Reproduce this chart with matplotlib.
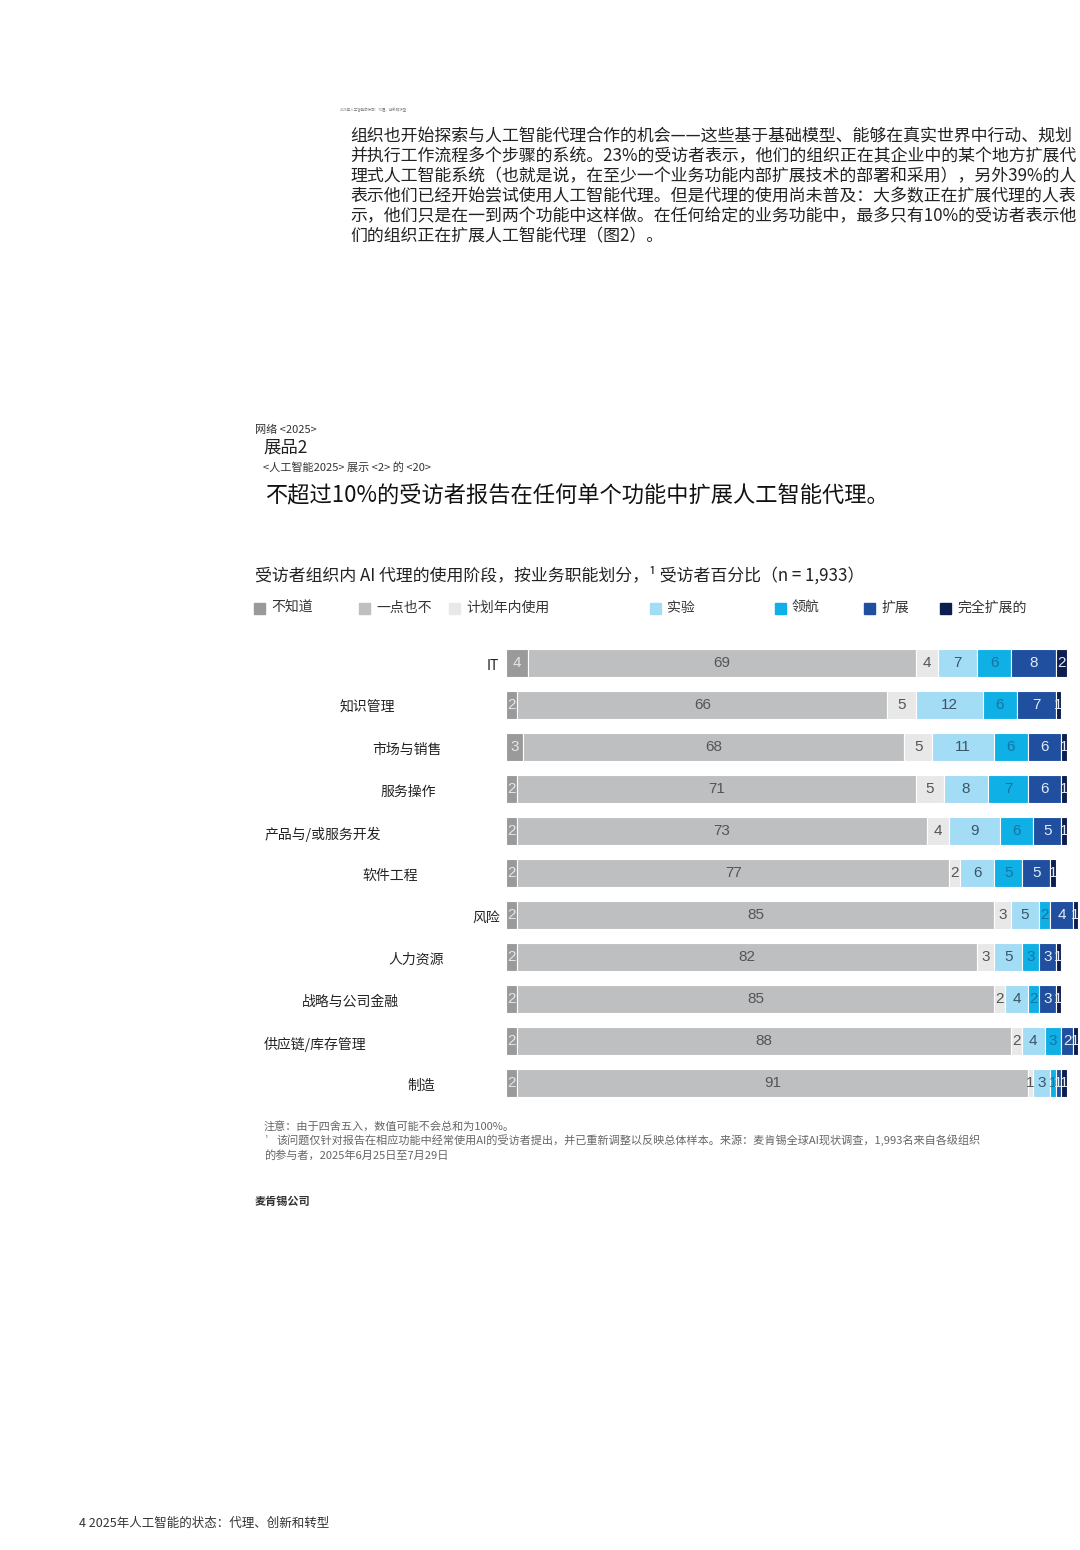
import matplotlib
matplotlib.use("Agg")
import matplotlib.pyplot as plt
from matplotlib.patches import Rectangle
import matplotlib.transforms as mtransforms

plt.rcParams['font.family'] = ['Noto Sans CJK SC', 'DejaVu Sans']

# ---- data ----
functions = ["IT", "知识管理", "市场与销售", "服务操作", "产品与/或服务开发", "软件工程",
             "风险", "人力资源", "战略与公司金融", "供应链/库存管理", "制造"]
stages = ["不知道", "一点也不", "计划年内使用", "实验", "领航", "扩展", "完全扩展的"]
dont_know = [4, 2, 3, 2, 2, 2, 2, 2, 2, 2, 2]
not_at_all = [69, 66, 68, 71, 73, 77, 85, 82, 85, 88, 91]
planning = [4, 5, 5, 5, 4, 2, 3, 3, 2, 2, 1]
experimenting = [7, 12, 11, 8, 9, 6, 5, 5, 4, 4, 3]
piloting = [6, 6, 6, 7, 6, 5, 2, 3, 2, 3, 1]
scaling = [8, 7, 6, 6, 5, 5, 4, 3, 3, 2, 1]
fully_scaled = [2, 1, 1, 1, 1, 1, 1, 1, 1, 1, 1]
series = [dont_know, not_at_all, planning, experimenting, piloting, scaling, fully_scaled]

colors = ["#9a9a9a", "#bdbfc0", "#e8e8e8", "#a3dcf5", "#0fb0e6", "#1f4f9e", "#0c1d4f"]
text_colors = ["#e6e6e6", "#555555", "#555555", "#3b5566", "#1574a3", "#e3eaf6", "#e3eaf6"]

# category label left edges (px), as laid out in the source page
label_x = [487, 340, 372, 380, 265, 362, 472, 388, 302, 264, 407]

W, H = 1080, 1550
fig = plt.figure(figsize=(W / 100, H / 100), dpi=100)


def fx(x):
    return x / W


def fy(y):
    return 1 - y / H


# ---- page text ----
fig.text(fx(340), fy(110), "2025年人工智能的状态：代理、创新和转型", fontsize=2.5,
         color="#777777", va="center")

body = [
    "组织也开始探索与人工智能代理合作的机会——这些基于基础模型、能够在真实世界中行动、规划",
    "并执行工作流程多个步骤的系统。23%的受访者表示，他们的组织正在其企业中的某个地方扩展代",
    "理式人工智能系统（也就是说，在至少一个业务功能内部扩展技术的部署和采用），另外39%的人",
    "表示他们已经开始尝试使用人工智能代理。但是代理的使用尚未普及：大多数正在扩展代理的人表",
    "示，他们只是在一到两个功能中这样做。在任何给定的业务功能中，最多只有10%的受访者表示他",
    "们的组织正在扩展人工智能代理（图2）。",
]
for i, line in enumerate(body):
    fig.text(fx(350), fy(136 + 20 * i), line, fontsize=12.2, color="#222222", va="center")

fig.text(fx(255), fy(430), "网络 <2025>", fontsize=8, color="#333333", va="center")
fig.text(fx(263), fy(448), "展品2", fontsize=12.5, color="#222222", va="center")
fig.text(fx(263), fy(467), "<人工智能2025> 展示 <2> 的 <20>", fontsize=8, color="#333333", va="center")
fig.text(fx(265), fy(496), "不超过10%的受访者报告在任何单个功能中扩展人工智能代理。",
         fontsize=16, color="#111111", va="center")
fig.text(fx(255), fy(575), "受访者组织内 AI 代理的使用阶段，按业务职能划分，¹ 受访者百分比（n = 1,933）",
         fontsize=12.2, color="#222222", va="center")

# legend
legend_x = [254, 359, 449, 650, 775, 864, 940]
for lx, name, c in zip(legend_x, stages, colors):
    fig.patches.append(Rectangle((fx(lx), fy(614)), fx(11), 11 / H, color=c,
                                 transform=fig.transFigure, figure=fig))
    fig.text(fx(lx + 17), fy(608), name, fontsize=10, color="#333333", va="center")

# ---- chart ----
ax = fig.add_axes([fx(506), fy(1104), fx(561), 462 / H])
ypos = list(range(len(functions)))
left = [0] * len(functions)
for vals, c, tc in zip(series, colors, text_colors):
    ax.barh(ypos, vals, left=left, height=0.67, color=c, edgecolor="white", linewidth=0.8,
            clip_on=False)
    for y, v, l in zip(ypos, vals, left):
        ax.text(l + v / 2, y, str(v), ha="center", va="center", fontsize=11,
                color=tc, family=["Liberation Sans", "DejaVu Sans"])
    left = [a + b for a, b in zip(left, vals)]

ax.set_xlim(0, 100)
ax.set_ylim(len(functions) - 0.5, -0.5)
ax.axis("off")

trans = mtransforms.blended_transform_factory(fig.transFigure, ax.transData)
for y, name, lx in zip(ypos, functions, label_x):
    ax.text(fx(lx), y + 0.07, name, transform=trans, fontsize=10, color="#222222",
            ha="left", va="center", clip_on=False)

# ---- notes ----
fig.text(fx(264), fy(1126), "注意：由于四舍五入，数值可能不会总和为100%。", fontsize=8,
         color="#666666", va="center")
fig.text(fx(264), fy(1140), "¹", fontsize=6, color="#666666", va="center")
fig.text(fx(277), fy(1140), "该问题仅针对报告在相应功能中经常使用AI的受访者提出，并已重新调整以反映总体样本。"
         "来源：麦肯锡全球AI现状调查，1,993名来自各级组织", fontsize=8, color="#666666", va="center")
fig.text(fx(264), fy(1155), "的参与者，2025年6月25日至7月29日", fontsize=8, color="#666666", va="center")
fig.text(fx(255), fy(1201), "麦肯锡公司", fontsize=8, color="#333333", va="center", weight="bold")

fig.text(fx(79), fy(1523), "4 2025年人工智能的状态：代理、创新和转型", fontsize=9,
         color="#333333", va="center")

fig.savefig("out.png", dpi=100, facecolor="white")
